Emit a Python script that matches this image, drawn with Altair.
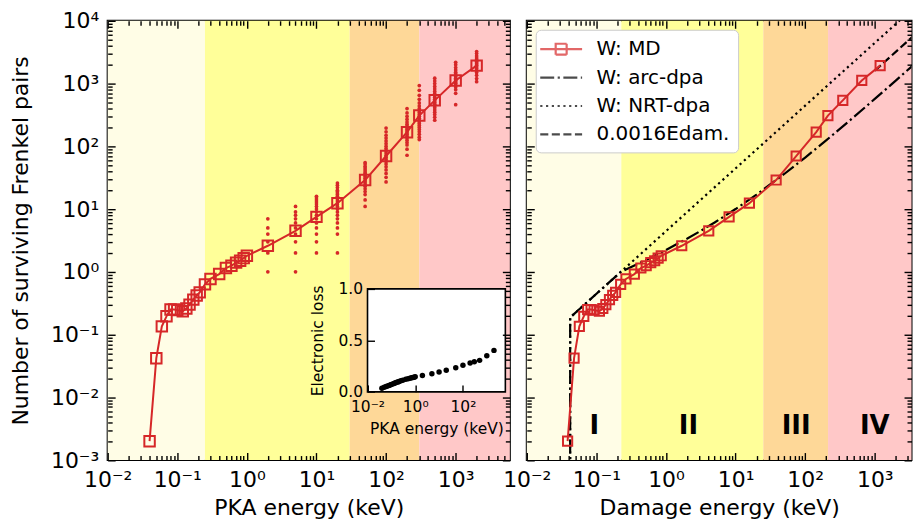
import altair as alt
import pandas as pd

# ---------------- data ----------------
PKA_E = [0.04, 0.05, 0.06, 0.07, 0.08, 0.09, 0.10, 0.12, 0.135, 0.15, 0.17, 0.19, 0.21,
         0.25, 0.30, 0.40, 0.50, 0.60, 0.70, 0.80, 0.90, 1.0,
         2, 5, 10, 20, 50, 100, 200, 300, 500, 1000, 2000]
MD_N = [0.002, 0.042, 0.135, 0.195, 0.25, 0.25, 0.245, 0.235, 0.26, 0.30, 0.36, 0.42, 0.47,
        0.63, 0.77, 0.92, 1.15, 1.25, 1.4, 1.5, 1.65, 1.8,
        2.6, 4.5, 7.5, 12.4, 29, 70, 168, 309, 540, 1120, 1930]
ELOSS = [0.035, 0.045, 0.052, 0.058, 0.063, 0.068, 0.072, 0.079, 0.084, 0.088, 0.093, 0.097, 0.101,
         0.107, 0.113, 0.122, 0.128, 0.133, 0.137, 0.140, 0.143, 0.146,
         0.158, 0.177, 0.193, 0.210, 0.235, 0.258, 0.280, 0.293, 0.306, 0.350, 0.403]
DAM_E = [0.0386, 0.0478, 0.0569, 0.0659, 0.0750, 0.0839, 0.0928, 0.1105, 0.1237, 0.1368, 0.1542, 0.1716, 0.1888,
         0.2233, 0.2661, 0.3512, 0.436, 0.520, 0.604, 0.688, 0.771, 0.854,
         1.684, 4.115, 8.07, 15.8, 38.25, 74.2, 144, 212, 347, 650, 1194]

RUN_E = [2, 5, 10, 20, 50, 100, 200, 300, 500, 1000, 2000]
RUN_N = [
    [1, 2, 3, 4, 5, 7],
    [1, 2, 3, 4, 5, 6, 7, 8, 9, 11],
    [2, 3, 4, 5, 6, 7, 8, 9, 10, 11, 12, 13, 14, 15, 16],
    [2, 4, 5, 6, 7, 8, 9, 10, 11, 12, 13, 14, 15, 16, 17, 18, 19, 20, 22, 24, 26],
    [11, 14, 17, 19, 21, 23, 25, 27, 29, 31, 33, 35, 37, 39, 42, 45, 48, 52, 55],
    [27, 32, 37, 42, 47, 52, 57, 62, 67, 72, 78, 85, 92, 100, 110, 122, 135, 150, 170, 195],
    [72, 90, 105, 115, 125, 135, 145, 155, 165, 175, 185, 195, 210, 225, 245, 270, 300, 340, 400],
    [128, 140, 155, 170, 185, 200, 215, 230, 245, 260, 280, 300, 320, 345, 370, 400, 440, 490, 560, 650, 780, 930],
    [260, 290, 320, 350, 380, 410, 440, 470, 500, 530, 560, 600, 640, 690, 750, 820, 900, 1000, 1100, 1220],
    [460, 700, 800, 880, 950, 1010, 1060, 1110, 1160, 1220, 1280, 1350, 1430, 1520, 1650, 1800, 2000, 2180],
    [1070, 1200, 1350, 1500, 1620, 1740, 1850, 1950, 2050, 2150, 2270, 2400, 2550, 2750, 3000, 3240],
]

ARC_E = [0.042, 0.042, 0.225, 0.25, 0.3, 0.5, 0.7, 1, 2, 3, 5, 10, 20, 50, 100, 200, 500, 1000, 2000, 5000]
ARC_N = [1e-4, 0.187, 1.0, 1.055, 1.159, 1.516, 1.823, 2.23, 3.37, 4.35, 6.11, 10.0, 17.0, 36.2, 66.2,
         124.1, 292.8, 568.8, 1114.7, 2738]
NRT_E = [0.042, 0.042, 0.225, 5000]
NRT_N = [1e-4, 0.187, 1.0, 22222]
LIN_E = [1000, 5000]
LIN_N = [1600, 8000]

SERIES = ["W: MD", "W: arc-dpa", "W: NRT-dpa", "0.0016Edam."]

ROMAN = ["I", "II", "III", "IV"]
ROMAN_E = [0.093, 2.1, 74, 1000]
ROMAN_N = [0.0035, 0.0035, 0.0035, 0.0035]

XLIM1 = [0.01, 6000]
XLIM2 = [0.01, 3370]
YLIM = [0.001, 10000]
INSET_XLIM = [0.01, 6000]
INSET_YLIM = [0, 1]

BAND1_LO = [0.01, 0.25, 30, 300]
BAND1_HI = [0.25, 30, 300, 6000]
BAND2_LO = [0.01, 0.228, 25, 213]
BAND2_HI = [0.228, 25, 213, 3370]

# ---------------- styling ----------------
FONT = "DejaVu Sans"
RED = "#d62728"
BAND_COLORS = ["#fffde6", "#ffff99", "#fed898", "#ffc8c8"]
SERIES_COLORS = [RED, "black", "black", "black"]
SERIES_DASH = [[1, 0], [14, 3.5, 2.2, 3.5], [2.2, 3.6], [8.1, 3.5]]
MD_PATH = "M-2.1,0H2.1M-0.55,-0.55H0.55V0.55H-0.55Z"
LINE_PATH = "M-2.1,0H2.1"
SERIES_PATHS = [MD_PATH, LINE_PATH, LINE_PATH, LINE_PATH]

W1, W2, H = 403.5, 386.0, 440.7
INSET_BOX = [260.7, 399.0, 269.0, 372.3]   # left, right, top, bottom in the left view
TL, TLM = 7.5, 4.5

X_MAJOR = [0.01, 0.1, 1, 10, 100, 1000]
Y_MAJOR = [0.001, 0.01, 0.1, 1, 10, 100, 1000, 10000]
X_MINOR1 = [m * 10.0 ** k for k in range(-2, 4) for m in range(2, 10) if m * 10.0 ** k < XLIM1[1]]
X_MINOR2 = [m * 10.0 ** k for k in range(-2, 4) for m in range(2, 10) if m * 10.0 ** k < XLIM2[1]]
Y_MINOR = [m * 10.0 ** k for k in range(-3, 4) for m in range(2, 10)]

SUP = {-3: "⁻³", -2: "⁻²", -1: "⁻¹", 0: "⁰", 1: "¹", 2: "²", 3: "³", 4: "⁴"}
LEXPR = "''"
for _k in sorted(SUP):
    LEXPR = f"round(log(datum.value)/LN10) == {_k} ? '10{SUP[_k]}' : ({LEXPR})"


def ax(orient, values, size, labels=False, title=None, label_size=22, label_pad=6,
       title_pad=8, title_size=22, offset=None, fmt=None, expr=None):
    kw = dict(orient=orient, values=values, tickSize=size,
              offset=(-size if offset is None else offset),
              domain=False, grid=False, ticks=True, labels=labels, zindex=2,
              tickColor="black", tickWidth=1.4)
    if labels:
        kw.update(labelFont=FONT, labelFontSize=label_size, labelColor="black",
                  labelPadding=label_pad, labelFlush=False, labelOverlap=False)
        if expr:
            kw["labelExpr"] = expr
        if fmt:
            kw["format"] = fmt
    if title:
        kw.update(title=title, titleFont=FONT, titleFontSize=title_size,
                  titleFontWeight="normal", titleColor="black", titlePadding=title_pad)
    else:
        kw["title"] = None
    return alt.Axis(**kw)


# ---------------- tables ----------------
md1 = pd.DataFrame({"E": PKA_E, "N": MD_N})
md2 = pd.DataFrame({"E": DAM_E, "N": MD_N})
eloss = pd.DataFrame({"E": PKA_E, "L": ELOSS})
runs = pd.DataFrame([{"E": e, "N": n} for e, ns in zip(RUN_E, RUN_N) for n in ns])
bands1 = pd.DataFrame({"lo": BAND1_LO, "hi": BAND1_HI, "c": BAND_COLORS,
                       "ylo": [YLIM[0]] * 4, "yhi": [YLIM[1]] * 4})
bands2 = pd.DataFrame({"lo": BAND2_LO, "hi": BAND2_HI, "c": BAND_COLORS,
                       "ylo": [YLIM[0]] * 4, "yhi": [YLIM[1]] * 4})
arc = pd.DataFrame({"E": ARC_E, "N": ARC_N})
nrt = pd.DataFrame({"E": NRT_E, "N": NRT_N})
lin = pd.DataFrame({"E": LIN_E, "N": LIN_N})
roman = pd.DataFrame({"t": ROMAN, "E": ROMAN_E, "N": ROMAN_N})
frame = pd.DataFrame({"x": [INSET_XLIM[0]], "x2": [INSET_XLIM[1]],
                      "y": [INSET_YLIM[0]], "y2": [INSET_YLIM[1]]})
leg = pd.DataFrame({"series": SERIES, "E": [1, 1, 1, 1], "N": [1, 1, 1, 1]})

xs1 = alt.Scale(type="log", domain=XLIM1, nice=False)
xs2 = alt.Scale(type="log", domain=XLIM2, nice=False)
ys = alt.Scale(type="log", domain=YLIM, nice=False)

# ---------------- left panel ----------------
bg1 = alt.Chart(bands1).mark_rect(strokeWidth=0).encode(
    x=alt.X("lo:Q", scale=xs1, axis=ax("bottom", X_MAJOR, TL, labels=True, expr=LEXPR, label_pad=10,
                                       title="PKA energy (keV)", title_pad=7)),
    x2="hi:Q",
    y=alt.Y("ylo:Q", scale=ys, axis=ax("left", Y_MAJOR, TL, labels=True, expr=LEXPR, label_pad=9,
                                       title="Number of surviving Frenkel pairs", title_pad=18)),
    y2="yhi:Q",
    color=alt.Color("c:N", scale=None),
)
dots1 = alt.Chart(runs).mark_circle(size=14, color=RED, opacity=1).encode(
    x=alt.X("E:Q", scale=xs1, axis=ax("bottom", X_MINOR1, TLM)),
    y=alt.Y("N:Q", scale=ys, axis=ax("left", Y_MINOR, TLM)),
)
line1 = alt.Chart(md1).mark_line(color=RED, strokeWidth=2).encode(
    x=alt.X("E:Q", scale=xs1, axis=ax("top", X_MAJOR, TL)),
    y=alt.Y("N:Q", scale=ys, axis=ax("right", Y_MAJOR, TL)),
)
pts1 = alt.Chart(md1).mark_point(shape="square", filled=False, color=RED, size=110,
                                 strokeWidth=2, opacity=1).encode(
    x=alt.X("E:Q", scale=xs1, axis=ax("top", X_MINOR1, TLM)),
    y=alt.Y("N:Q", scale=ys, axis=ax("right", Y_MINOR, TLM)),
)

xsi = alt.Scale(type="log", domain=INSET_XLIM, nice=False, range=[INSET_BOX[0], INSET_BOX[1]])
ysi = alt.Scale(type="linear", domain=INSET_YLIM, nice=False, zero=False,
                range=[INSET_BOX[3], INSET_BOX[2]])
inset_frame = alt.Chart(frame).mark_rect(fill="white", stroke="black", strokeWidth=1.6).encode(
    x=alt.X("x:Q", scale=xsi, axis=ax("bottom", [0.01, 1, 100], 7, labels=True, expr=LEXPR,
                                      label_size=15.5, label_pad=8, title="PKA energy (keV)",
                                      title_size=15.5, title_pad=6,
                                      offset=INSET_BOX[3] - H - 7)),
    x2="x2:Q",
    y=alt.Y("y:Q", scale=ysi, axis=ax("left", [0, 0.5, 1], 7, labels=True, fmt=".1f",
                                      label_size=15.5, label_pad=5, title="Electronic loss",
                                      title_size=15.5, title_pad=13,
                                      offset=-(INSET_BOX[0] + 7))),
    y2="y2:Q",
)
inset_dots = alt.Chart(eloss).mark_circle(size=30, color="black", opacity=1).encode(
    x=alt.X("E:Q", scale=xsi, axis=None),
    y=alt.Y("L:Q", scale=ysi, axis=None),
)

left = alt.layer(bg1, dots1, line1, pts1, inset_frame, inset_dots).resolve_scale(
    x="independent", y="independent").properties(width=W1, height=H)

# ---------------- right panel ----------------
bg2 = alt.Chart(bands2).mark_rect(strokeWidth=0).encode(
    x=alt.X("lo:Q", scale=xs2, axis=ax("bottom", X_MAJOR, TL, labels=True, expr=LEXPR, label_pad=10,
                                       title="Damage energy (keV)", title_pad=7)),
    x2="hi:Q",
    y=alt.Y("ylo:Q", scale=ys, axis=ax("left", Y_MAJOR, TL)),
    y2="yhi:Q",
    color=alt.Color("c:N", scale=None),
)
arc_l = alt.Chart(arc).mark_line(color="black", strokeWidth=2.2, strokeDash=SERIES_DASH[1], clip=True).encode(
    x=alt.X("E:Q", scale=xs2, axis=ax("bottom", X_MINOR2, TLM)),
    y=alt.Y("N:Q", scale=ys, axis=ax("left", Y_MINOR, TLM)),
)
nrt_l = alt.Chart(nrt).mark_line(color="black", strokeWidth=2.2, strokeDash=SERIES_DASH[2], clip=True).encode(
    x=alt.X("E:Q", scale=xs2, axis=ax("top", X_MAJOR, TL)),
    y=alt.Y("N:Q", scale=ys, axis=ax("right", Y_MAJOR, TL)),
)
lin_l = alt.Chart(lin).mark_line(color="black", strokeWidth=2.2, strokeDash=SERIES_DASH[3], clip=True).encode(
    x=alt.X("E:Q", scale=xs2, axis=ax("top", X_MINOR2, TLM)),
    y=alt.Y("N:Q", scale=ys, axis=ax("right", Y_MINOR, TLM)),
)
line2 = alt.Chart(md2).mark_line(color=RED, strokeWidth=2).encode(
    x=alt.X("E:Q", scale=xs2, axis=None),
    y=alt.Y("N:Q", scale=ys, axis=None),
)
pts2 = alt.Chart(md2).mark_point(shape="square", filled=False, color=RED, size=85,
                                 strokeWidth=2, opacity=1).encode(
    x=alt.X("E:Q", scale=xs2, axis=None),
    y=alt.Y("N:Q", scale=ys, axis=None),
)
txt = alt.Chart(roman).mark_text(font=FONT, fontSize=26, fontWeight="bold", color="black",
                                 align="center", baseline="middle").encode(
    x=alt.X("E:Q", scale=xs2, axis=None),
    y=alt.Y("N:Q", scale=ys, axis=None),
    text="t:N",
)
LEG = alt.Legend(title=None, orient="top-left", offset=9, padding=8, fillColor="white",
                 strokeColor="#cccccc", cornerRadius=5, labelFont=FONT, labelFontSize=20,
                 labelColor="black", labelLimit=400, symbolSize=400, symbolStrokeWidth=2.2,
                 symbolOffset=6, labelOffset=24, rowPadding=6.5)
leg_l = alt.Chart(leg).transform_filter("false").mark_point(filled=False, size=400, strokeWidth=2.2).encode(
    x=alt.X("E:Q", scale=xs2, axis=None),
    y=alt.Y("N:Q", scale=ys, axis=None),
    shape=alt.Shape("series:N", scale=alt.Scale(domain=SERIES, range=SERIES_PATHS), legend=LEG),
    stroke=alt.Stroke("series:N", scale=alt.Scale(domain=SERIES, range=SERIES_COLORS), legend=LEG),
    strokeDash=alt.StrokeDash("series:N", scale=alt.Scale(domain=SERIES, range=SERIES_DASH), legend=LEG),
)
right = alt.layer(bg2, arc_l, nrt_l, lin_l, line2, pts2, txt, leg_l).resolve_axis(
    x="independent", y="independent").properties(width=W2, height=H)

chart = alt.hconcat(left, right, spacing=16.5, bounds="flush").resolve_scale(
    shape="independent", stroke="independent", strokeDash="independent"
).properties(
    padding={"left": 0, "top": 0, "right": 0, "bottom": 0}
).configure(font=FONT).configure_view(stroke="black", strokeWidth=2)

chart.save("out.html", embed_options={"renderer": "svg", "actions": False})
